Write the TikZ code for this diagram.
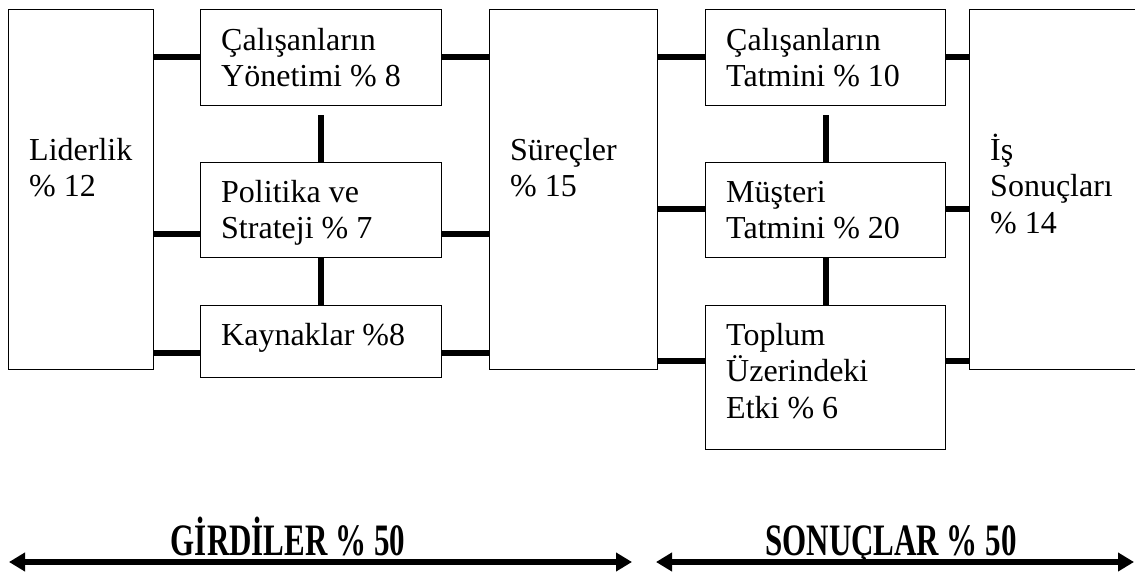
\documentclass[tikz,border=0pt]{standalone}
\usepackage{fontspec}
\usepackage{graphicx}
\setmainfont{Liberation Serif}
\usetikzlibrary{arrows.meta}
\begin{document}
\begin{tikzpicture}[x=1pt,y=-1pt,
  box/.style={draw=black,line width=1.3pt,rectangle,inner sep=0pt,anchor=north west},
  conn/.style={line width=6pt},
  txt/.style={anchor=north west,inner sep=0pt,align=left,font=\fontsize{32}{36.5}\selectfont},
  big/.style={anchor=base,inner sep=0pt,font=\fontsize{31}{36}\selectfont\bfseries},
  dbl/.style={line width=6pt,{Triangle[length=16pt,width=18pt]}-{Triangle[length=16pt,width=18pt]}}]
\useasboundingbox (0,0) rectangle (1135,572);
% boxes
\node[box,minimum width=145pt,minimum height=360pt] (L) at (8,9) {};
\node[box,minimum width=241pt,minimum height=96pt] (M1) at (200,9) {};
\node[box,minimum width=241pt,minimum height=95pt] (M2) at (200,162) {};
\node[box,minimum width=241pt,minimum height=72pt] (M3) at (200,305) {};
\node[box,minimum width=168pt,minimum height=360pt] (S) at (489,9) {};
\node[box,minimum width=240pt,minimum height=96pt] (R1) at (705,9) {};
\node[box,minimum width=240pt,minimum height=95pt] (R2) at (705,162) {};
\node[box,minimum width=240pt,minimum height=144pt] (R3) at (705,305) {};
\node[box,minimum width=190pt,minimum height=360pt] (I) at (969,9) {};
% texts
\newcommand{\fl}{\rule{0pt}{30pt}}
\node[txt] (tL) at (29,130) {\fl Liderlik\\\% 12};
\node[txt] (tM1) at (221,20) {\fl Çalışanların\\Yönetimi \% 8};
\node[txt] (tM2) at (221,172) {\fl Politika ve\\Strateji \% 7};
\node[txt] (tM3) at (221,315) {\fl Kaynaklar \%8};
\node[txt] (tS) at (510,130) {\fl Süreçler\\\% 15};
\node[txt] (tR1) at (726,20) {\fl Çalışanların\\Tatmini \% 10};
\node[txt] (tR2) at (726,172) {\fl Müşteri\\Tatmini \% 20};
\node[txt] (tR3) at (726,315) {\fl Toplum\\Üzerindeki\\Etki \% 6};
\node[txt] (tI) at (990,130) {\fl İş\\Sonuçları\\\% 14};
% horizontal connectors
\draw[conn] (L.east |- 0,57) -- (M1.west |- 0,57);
\draw[conn] (L.east |- 0,234) -- (M2.west |- 0,234);
\draw[conn] (L.east |- 0,353) -- (M3.west |- 0,353);
\draw[conn] (M1.east |- 0,57) -- (S.west |- 0,57);
\draw[conn] (M2.east |- 0,234) -- (S.west |- 0,234);
\draw[conn] (M3.east |- 0,353) -- (S.west |- 0,353);
\draw[conn] (S.east |- 0,57) -- (R1.west |- 0,57);
\draw[conn] (S.east |- 0,209) -- (R2.west |- 0,209);
\draw[conn] (S.east |- 0,361) -- (R3.west |- 0,361);
\draw[conn] (R1.east |- 0,57) -- (I.west |- 0,57);
\draw[conn] (R2.east |- 0,209) -- (I.west |- 0,209);
\draw[conn] (R3.east |- 0,361) -- (I.west |- 0,361);
% vertical connectors
\draw[conn] ([yshift=-9pt]M1.south) -- (M2.north);
\draw[conn] (M2.south) -- (M3.north);
\draw[conn] ([yshift=-9pt]R1.south) -- (R2.north);
\draw[conn] (R2.south) -- (R3.north);
% bottom
\node[big] (gir) at (288,555) {\scalebox{1}[1.45]{GİRDİLER \% 50}};
\node[big] (son) at (891,555) {\scalebox{1}[1.45]{SONUÇLAR \% 50}};
\coordinate (a1) at (9,562);
\coordinate (a2) at (632,562);
\coordinate (b1) at (656,562);
\coordinate (b2) at (1134,562);
\draw[dbl] (a1) -- (a2);
\draw[dbl] (b1) -- (b2);
\end{tikzpicture}
\end{document}
